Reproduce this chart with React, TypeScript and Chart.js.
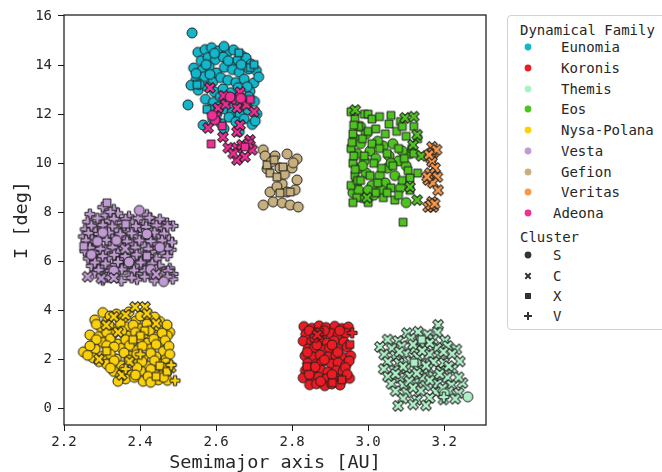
import React, { useEffect, useRef } from 'react';
import { Chart, registerables } from 'chart.js';

Chart.register(...registerables);

type Pt = [number, number];

const FONT = "'DejaVu Sans Mono', monospace";
const TEXT = '#262626';
const EDGE = '#1f1f1f';

const xTicks = [2.2, 2.4, 2.6, 2.8, 3.0, 3.2];
const yTicks = [0, 2, 4, 6, 8, 10, 12, 14, 16];
const xRange = [2.2, 3.31];
const yRange = [-0.66, 16.04];

const familyNames = ['Eunomia', 'Koronis', 'Themis', 'Eos', 'Nysa-Polana', 'Vesta', 'Gefion', 'Veritas', 'Adeona'];
const familyColors = ['#13b6cb', '#ec1c24', '#adf0c6', '#4ec320', '#fbd10c', '#c09ad1', '#c7b07e', '#f7984a', '#f02e96'];
const clusterNames = ['S', 'C', 'X', 'V'];

// ---------- data: [semimajor axis AU, inclination deg] ----------
const eunomiaS: Pt[] = [
  [2.537,15.31],[2.552,14.52],[2.571,14.63],[2.588,14.71],[2.607,14.58],[2.628,14.49],[2.646,14.62],[2.668,14.38],
  [2.561,14.18],[2.579,14.31],[2.598,14.22],[2.619,14.33],[2.638,14.08],[2.657,14.21],[2.679,14.29],[2.541,13.88],
  [2.563,13.79],[2.582,13.93],[2.601,13.68],[2.622,13.91],[2.643,13.82],[2.661,13.71],[2.686,13.84],[2.706,13.78],
  [2.548,13.42],[2.569,13.53],[2.591,13.31],[2.612,13.49],[2.631,13.38],[2.652,13.29],[2.674,13.43],[2.699,13.27],
  [2.553,12.98],[2.577,13.12],[2.596,12.91],[2.618,13.03],[2.639,12.88],[2.658,13.08],[2.689,12.93],[2.572,12.61],
  [2.593,12.48],[2.611,12.72],[2.629,12.52],[2.649,12.63],[2.671,12.41],[2.701,12.52],[2.526,12.38],[2.583,12.19],
  [2.602,12.02],[2.624,12.21],[2.642,12.08],[2.663,11.98],[2.684,12.18],[2.707,12.01],[2.591,11.79],[2.613,11.62],
  [2.634,11.88],[2.652,11.69],[2.674,11.81],[2.695,11.58],[2.566,11.56],[2.621,11.41],[2.661,11.29],[2.703,11.72],
  [2.574,14.02],[2.692,14.04],[2.534,13.18],[2.621,14.76],[2.712,13.52],[2.547,13.66],
  [2.596,14.48],[2.632,14.18],[2.666,14.02],[2.556,13.21],[2.584,13.62],[2.682,13.12],[2.608,12.31],[2.686,12.71]
];
const eunomiaX: Pt[] = [[2.66,14.5],[2.69,13.9],[2.55,13.2],[2.576,12.2],[2.70,14.02]];

const adeonaC: Pt[] = [
  [2.584,13.07],[2.663,12.9],[2.68,12.46],[2.605,12.25],[2.655,12.25],[2.579,11.44],[2.618,11.07],[2.655,11.28],
  [2.632,10.63],[2.655,10.63],[2.668,10.75],[2.689,10.95],[2.695,10.55],[2.655,10.14],[2.676,10.26],[2.663,11.56],
  [2.68,12.38],[2.64,12.6],[2.62,12.75],[2.60,11.9],[2.645,10.4],[2.685,10.8],[2.70,12.1],[2.625,12.4]
];
const adeonaX: Pt[] = [[2.587,10.79],[2.616,11.52],[2.676,10.67],[2.69,12.6]];
const adeonaS: Pt[] = [[2.637,12.7],[2.597,11.77],[2.665,12.65],[2.59,11.95]];

const gefionS: Pt[] = [
  [2.724,10.55],[2.755,10.30],[2.787,10.38],[2.813,10.18],[2.734,9.77],[2.768,9.81],[2.800,9.81],[2.813,9.32],
  [2.774,9.16],[2.742,8.83],[2.787,8.83],[2.750,8.43],[2.774,8.39],[2.795,8.30],[2.816,8.22],[2.724,8.30],
  [2.808,8.92],[2.729,10.30],[2.780,9.55],[2.760,9.05],[2.745,10.05],[2.803,10.02]
];
const gefionX: Pt[] = [[2.734,9.93],[2.753,10.14],[2.742,9.60],[2.760,9.44],[2.768,8.79],[2.795,8.83],[2.776,9.85]];

const eosX: Pt[] = [
  [2.955,12.1],[2.965,11.8],[2.975,11.5],[2.96,11.2],[2.955,10.6],[2.96,10.0],[2.965,9.5],[2.955,9.1],[2.97,8.6],
  [2.96,8.4],[2.985,11.0],[2.99,10.3],[3.0,11.3],[3.01,10.8],[3.02,11.4],[3.03,10.6],[3.015,10.0],[3.005,9.5],
  [3.025,9.2],[3.035,9.8],[3.045,11.2],[3.05,10.4],[3.055,11.6],[3.065,9.9],[3.06,9.0],[3.075,11.3],[3.08,10.6],
  [3.085,11.7],[3.09,9.3],[3.095,10.2],[3.10,11.1],[3.11,8.9],[3.115,10.6],[3.12,11.5],[3.13,11.0],[3.04,8.6],
  [3.0,8.4],[3.07,8.5],[3.092,7.6],[2.99,12.0],[3.02,8.8],[3.105,9.7],
  [2.962,11.55],[2.958,10.85],[2.962,10.3],[2.966,9.75],[2.972,9.3],[3.0,12.0],[3.01,11.8],[3.03,11.9],
  [3.06,11.95],[3.09,11.5],[3.12,10.4],[3.13,9.6],[3.11,9.4],[3.05,8.8],[3.08,8.7],[2.98,9.3]
];
const eosS: Pt[] = [
  [2.965,11.0],[2.97,10.4],[2.975,9.8],[2.97,9.2],[2.96,8.8],[2.98,10.8],[2.99,10.1],[2.995,9.6],[3.005,10.5],
  [3.01,9.1],[3.02,10.2],[3.03,9.5],[3.04,10.7],[3.05,9.8],[3.055,10.3],[3.065,10.8],[3.07,9.5],[3.08,10.1],
  [3.085,9.0],[3.10,8.4],[3.11,10.4],[2.985,8.6],[2.975,8.9],[3.015,8.7],[3.0,8.9],[2.98,11.5],
  [2.985,9.9],[3.025,10.9],[3.045,9.2],[3.09,10.5],[3.06,10.0],[2.995,11.2],[3.035,8.9],[3.1,9.9]
];
const eosC: Pt[] = [[2.966,12.17],[3.097,11.85],[3.129,11.16],[3.118,10.75],[3.11,9.04],[3.129,8.5],[2.997,8.6],[3.14,10.3],[3.12,11.9]];

const veritasC: Pt[] = [
  [3.168,10.67],[3.171,10.42],[3.165,10.2],[3.168,10.06],[3.176,9.81],[3.163,9.6],[3.182,9.44],[3.158,9.32],
  [3.17,9.2],[3.184,8.9],[3.168,8.43],[3.158,8.22],[3.171,8.22],[3.165,8.3],[3.18,10.55],[3.155,9.45],[3.16,10.35],[3.175,8.35]
];

const vestaV: Pt[] = [
  [2.302,8.21],[2.331,8.12],
  [2.268,7.93],[2.309,7.88],[2.342,7.96],[2.371,7.84],[2.418,7.91],
  [2.262,7.62],[2.291,7.55],[2.318,7.66],[2.352,7.58],[2.381,7.63],[2.409,7.52],[2.438,7.61],[2.471,7.57],
  [2.256,7.31],[2.283,7.24],[2.312,7.35],[2.338,7.28],[2.368,7.22],[2.401,7.33],[2.429,7.26],[2.458,7.36],[2.487,7.45],
  [2.251,7.02],[2.274,6.94],[2.303,7.05],[2.327,6.98],[2.361,6.92],[2.392,7.04],[2.421,6.96],[2.449,7.07],[2.476,6.91],
  [2.262,6.71],[2.288,6.64],[2.321,6.76],[2.349,6.68],[2.379,6.73],[2.412,6.62],[2.441,6.74],[2.468,6.66],
  [2.255,6.42],[2.281,6.35],[2.309,6.46],[2.342,6.38],[2.371,6.44],[2.398,6.33],[2.432,6.41],[2.459,6.36],[2.482,6.48],
  [2.264,6.12],[2.292,6.05],[2.318,6.16],[2.352,6.08],[2.383,6.14],[2.411,6.03],[2.443,6.11],
  [2.272,5.82],[2.301,5.76],[2.333,5.86],[2.362,5.78],[2.391,5.84],[2.422,5.74],[2.451,5.83],[2.478,5.72],
  [2.281,5.52],[2.312,5.46],[2.341,5.55],[2.372,5.43],[2.403,5.51],[2.428,5.42],[2.462,5.56],[2.487,5.49],
  [2.302,5.24],[2.351,5.21],[2.392,5.27],[2.438,5.22],[2.486,5.28],
  [2.322,8.02],[2.288,7.76],[2.331,7.74],[2.362,7.72],[2.395,7.76],[2.425,7.78],[2.452,7.72],
  [2.272,7.46],[2.302,7.48],[2.327,7.43],[2.358,7.46],[2.389,7.44],[2.416,7.41],[2.443,7.47],[2.472,7.43],
  [2.264,7.16],[2.292,7.12],[2.318,7.18],[2.348,7.11],[2.378,7.15],[2.408,7.12],[2.438,7.18],[2.463,7.14],
  [2.258,6.86],[2.282,6.81],[2.312,6.88],[2.336,6.84],[2.366,6.82],[2.398,6.86],[2.428,6.83],[2.458,6.86],[2.484,6.78],
  [2.268,6.56],[2.296,6.52],[2.328,6.58],[2.358,6.54],[2.388,6.57],[2.422,6.52],[2.448,6.55],[2.472,6.52],
  [2.271,6.26],[2.302,6.22],[2.332,6.27],[2.361,6.22],[2.391,6.28],[2.421,6.22],[2.472,6.22],
  [2.281,5.96],[2.309,5.92],[2.342,5.98],[2.372,5.93],[2.402,5.96],[2.432,5.92],
  [2.291,5.66],[2.322,5.62],[2.352,5.68],[2.384,5.64],[2.412,5.62],[2.442,5.66],[2.474,5.62],
  [2.318,5.36],[2.378,5.34],[2.412,5.38],[2.472,5.38]
];
const vestaS: Pt[] = [[2.398,8.08],[2.302,7.18],[2.338,6.86],[2.272,6.28],[2.371,5.98],[2.428,5.68],[2.452,6.58],[2.331,5.62],[2.462,5.18],[2.418,7.12],[2.288,6.82]];
const vestaC: Pt[] = [[2.262,5.38],[2.298,5.31],[2.331,5.33],[2.442,5.48],[2.361,6.52]];
const vestaX: Pt[] = [[2.313,8.39],[2.252,6.62],[2.418,6.22],[2.362,7.52]];

const nysaS: Pt[] = [
  [2.302,3.92],[2.338,3.86],[2.371,3.95],
  [2.281,3.62],[2.312,3.55],[2.352,3.66],[2.389,3.58],[2.421,3.64],[2.452,3.56],
  [2.298,3.31],[2.331,3.24],[2.362,3.35],[2.401,3.27],[2.432,3.33],[2.461,3.22],[2.478,3.12],
  [2.268,3.01],[2.291,2.94],[2.329,3.05],[2.368,2.97],[2.409,3.03],[2.441,2.92],[2.472,2.98],
  [2.302,2.71],[2.341,2.64],[2.381,2.76],[2.418,2.68],[2.452,2.73],
  [2.251,2.32],[2.282,2.44],[2.318,2.36],[2.352,2.47],[2.392,2.38],[2.428,2.45],[2.461,2.34],
  [2.276,2.08],[2.301,2.14],[2.338,2.03],[2.371,2.16],[2.408,2.07],[2.442,2.12],[2.468,2.01],
  [2.312,1.82],[2.351,1.76],[2.388,1.85],[2.421,1.74],[2.452,1.81],
  [2.331,1.52],[2.368,1.46],[2.402,1.55],[2.438,1.43],[2.471,1.51],
  [2.362,1.22],[2.408,1.12],[2.448,1.18],[2.472,1.16],[2.385,1.28],
  [2.321,3.78],[2.356,3.71],[2.401,3.78],[2.438,3.74],
  [2.285,3.44],[2.318,3.42],[2.348,3.48],[2.382,3.41],[2.418,3.45],[2.448,3.38],[2.471,3.42],
  [2.312,3.12],[2.352,3.16],[2.388,3.11],[2.425,3.18],[2.458,3.08],
  [2.285,2.82],[2.322,2.86],[2.362,2.82],[2.398,2.88],[2.436,2.84],[2.466,2.78],
  [2.268,2.56],[2.312,2.58],[2.332,2.52],[2.372,2.58],[2.406,2.55],[2.442,2.62],[2.476,2.55],
  [2.262,2.18],[2.322,2.22],[2.358,2.28],[2.391,2.21],[2.428,2.26],[2.478,2.22],
  [2.292,1.92],[2.332,1.96],[2.371,1.98],[2.405,1.92],[2.438,1.96],[2.468,1.88],
  [2.322,1.66],[2.358,1.62],[2.392,1.68],[2.428,1.61],[2.462,1.66],
  [2.348,1.32],[2.388,1.38],[2.421,1.32],[2.456,1.35],
  [2.342,1.12],[2.428,1.08],[2.462,1.28]
];
const nysaC: Pt[] = [[2.387,4.15],[2.413,4.15],[2.331,3.75],[2.362,3.82],[2.311,3.41],[2.342,3.12],[2.442,3.48],[2.292,2.02],[2.372,1.92],[2.481,1.68],[2.352,1.38],[2.418,3.88]];
const nysaX: Pt[] = [[2.412,3.18],[2.401,2.98],[2.312,2.35],[2.452,1.75],[2.471,1.52],[2.442,1.32],[2.381,2.82]];
const nysaV: Pt[] = [[2.492,1.15],[2.482,1.78],[2.401,2.22],[2.362,1.62]];

const koronisS: Pt[] = [
  [2.831,3.35],[2.852,3.28],[2.871,3.38],[2.889,3.31],[2.912,3.36],[2.931,3.27],[2.948,3.33],
  [2.836,3.04],[2.861,3.09],[2.879,2.98],[2.902,3.07],[2.921,3.01],[2.941,3.08],
  [2.829,2.76],[2.851,2.71],[2.872,2.79],[2.892,2.68],[2.911,2.77],[2.936,2.72],
  [2.842,2.44],[2.859,2.49],[2.881,2.41],[2.898,2.47],[2.922,2.42],[2.945,2.51],
  [2.834,2.16],[2.856,2.11],[2.874,2.19],[2.896,2.12],[2.915,2.18],[2.935,2.09],[2.954,2.16],
  [2.841,1.86],[2.862,1.81],[2.878,1.89],[2.903,1.83],[2.921,1.88],[2.942,1.81],
  [2.835,1.56],[2.853,1.51],[2.876,1.58],[2.894,1.49],[2.916,1.56],[2.934,1.52],
  [2.829,1.26],[2.851,1.21],[2.869,1.29],[2.891,1.22],[2.909,1.27],[2.931,1.19],[2.951,1.24],
  [2.846,0.98],[2.864,1.02],[2.886,0.94],[2.904,1.01],[2.926,0.97],
  [2.845,3.18],[2.885,3.18],[2.925,3.18],[2.865,2.6],[2.905,2.6],[2.84,2.3],[2.92,2.3],[2.885,2.0],
  [2.95,1.95],[2.86,1.7],[2.94,1.68],[2.905,1.4],[2.845,1.4],[2.875,1.12],[2.945,1.4]
];
const koronisX: Pt[] = [[2.839,1.72],[2.858,2.88],[2.872,3.12],[2.952,2.62],[2.906,1.06],[2.931,1.18]];
const koronisV: Pt[] = [[2.958,3.09]];
const koronisC: Pt[] = [[2.866,3.01]];

const themisC: Pt[] = [
  [3.184,3.42],
  [3.102,3.08],[3.131,3.14],[3.156,3.02],[3.182,3.11],
  [3.051,2.82],[3.078,2.76],[3.112,2.86],[3.139,2.74],[3.171,2.83],[3.202,2.78],
  [3.031,2.52],[3.062,2.46],[3.088,2.55],[3.121,2.44],[3.149,2.52],[3.181,2.47],[3.209,2.56],[3.232,2.42],
  [3.042,2.21],[3.071,2.16],[3.098,2.24],[3.129,2.13],[3.161,2.22],[3.188,2.17],[3.221,2.24],
  [3.052,1.92],[3.081,1.86],[3.112,1.94],[3.139,1.84],[3.172,1.91],[3.199,1.87],[3.241,1.93],
  [3.041,1.62],[3.069,1.56],[3.101,1.65],[3.132,1.58],[3.158,1.64],[3.191,1.54],[3.222,1.62],
  [3.052,1.31],[3.082,1.26],[3.109,1.34],[3.142,1.24],[3.171,1.32],[3.208,1.27],
  [3.061,1.02],[3.092,0.96],[3.122,1.04],[3.151,0.94],[3.182,1.01],[3.219,0.97],[3.248,1.05],
  [3.072,0.72],[3.101,0.66],[3.138,0.74],[3.178,0.68],[3.212,0.71],[3.238,0.64],
  [3.092,0.42],[3.128,0.36],[3.162,0.44],[3.198,0.38],[3.229,0.41],
  [3.079,0.12],[3.118,0.18],[3.152,0.14],
  [3.118,2.62],[3.162,2.68],[3.082,2.32],[3.142,2.36],[3.198,2.32],[3.092,1.72],[3.152,1.76],[3.212,1.74],
  [3.072,1.42],[3.128,1.45],[3.188,1.42],[3.108,1.12],[3.162,1.16],[3.238,1.28],[3.118,0.86],[3.196,0.84]
];
const themisX: Pt[] = [[3.141,2.82],[3.121,1.88]];
const themisS: Pt[] = [[3.262,0.49],[3.201,0.62]];
const themisV: Pt[] = [[3.199,0.48]];

// draw order: first drawn at the bottom
const groups: { family: string; cluster: string; pts: Pt[] }[] = [
  { family: 'Vesta', cluster: 'V', pts: vestaV },
  { family: 'Vesta', cluster: 'S', pts: vestaS },
  { family: 'Vesta', cluster: 'C', pts: vestaC },
  { family: 'Vesta', cluster: 'X', pts: vestaX },
  { family: 'Nysa-Polana', cluster: 'S', pts: nysaS },
  { family: 'Nysa-Polana', cluster: 'C', pts: nysaC },
  { family: 'Nysa-Polana', cluster: 'X', pts: nysaX },
  { family: 'Nysa-Polana', cluster: 'V', pts: nysaV },
  { family: 'Koronis', cluster: 'S', pts: koronisS },
  { family: 'Koronis', cluster: 'X', pts: koronisX },
  { family: 'Koronis', cluster: 'V', pts: koronisV },
  { family: 'Koronis', cluster: 'C', pts: koronisC },
  { family: 'Themis', cluster: 'C', pts: themisC },
  { family: 'Themis', cluster: 'X', pts: themisX },
  { family: 'Themis', cluster: 'S', pts: themisS },
  { family: 'Themis', cluster: 'V', pts: themisV },
  { family: 'Eos', cluster: 'S', pts: eosS },
  { family: 'Eos', cluster: 'X', pts: eosX },
  { family: 'Eos', cluster: 'C', pts: eosC },
  { family: 'Veritas', cluster: 'C', pts: veritasC },
  { family: 'Gefion', cluster: 'S', pts: gefionS },
  { family: 'Gefion', cluster: 'X', pts: gefionX },
  { family: 'Eunomia', cluster: 'S', pts: eunomiaS },
  { family: 'Eunomia', cluster: 'X', pts: eunomiaX },
  { family: 'Adeona', cluster: 'C', pts: adeonaC },
  { family: 'Adeona', cluster: 'X', pts: adeonaX },
  { family: 'Adeona', cluster: 'S', pts: adeonaS },
];

function plusPath(g: CanvasRenderingContext2D, h: number, w: number) {
  const p: Pt[] = [[-w,-h],[w,-h],[w,-w],[h,-w],[h,w],[w,w],[w,h],[-w,h],[-w,w],[-h,w],[-h,-w],[-w,-w]];
  g.moveTo(p[0][0], p[0][1]);
  for (let i = 1; i < p.length; i++) g.lineTo(p[i][0], p[i][1]);
  g.closePath();
}

function makeMarker(shape: string, fill: string): HTMLCanvasElement {
  const c = document.createElement('canvas');
  c.width = 16; c.height = 16;
  const g = c.getContext('2d')!;
  g.translate(8, 8);
  g.beginPath();
  if (shape === 'S') g.arc(0, 0, 5.0, 0, Math.PI * 2);
  else if (shape === 'X') g.rect(-3.9, -3.9, 7.8, 7.8);
  else if (shape === 'C') { g.rotate(Math.PI / 4); plusPath(g, 5.7, 1.8); }
  else plusPath(g, 5.0, 1.7);
  g.fillStyle = fill; g.fill();
  g.lineWidth = 1; g.strokeStyle = EDGE; g.stroke();
  return c;
}

const framePlugin = {
  id: 'frame',
  afterDraw(chart: any) {
    const { ctx, chartArea: a } = chart;
    ctx.save();
    ctx.strokeStyle = '#1a1a1a';
    ctx.lineWidth = 1.25;
    ctx.strokeRect(a.left, a.top, a.right - a.left, a.bottom - a.top);
    ctx.restore();
  },
};

function LegendMarker({ shape, color }: { shape: string; color: string }) {
  let el: React.ReactNode;
  if (shape === 'S') el = <circle cx={5} cy={5} r={3.4} fill={color} />;
  else if (shape === 'X') el = <rect x={2} y={2} width={6} height={6} fill={color} />;
  else if (shape === 'C')
    el = <path d="M1.6,3 L3,1.6 L5,3.6 L7,1.6 L8.4,3 L6.4,5 L8.4,7 L7,8.4 L5,6.4 L3,8.4 L1.6,7 L3.6,5 Z" fill={color} />;
  else el = <path d="M4,1 H6 V4 H9 V6 H6 V9 H4 V6 H1 V4 H4 Z" fill={color} />;
  return <svg width={10} height={10} style={{ position: 'absolute', left: -5, top: -5 }}>{el}</svg>;
}

function Legend() {
  const rowStyle = (x: number, cy: number): React.CSSProperties => ({
    position: 'absolute', left: x, top: cy - 9, height: 18, lineHeight: '18px',
    fontFamily: FONT, fontSize: 14, color: TEXT, whiteSpace: 'pre',
  });
  const famY = [47, 68, 89, 109, 130, 151, 172, 192, 213];
  const cluY = [255, 276, 296, 316];
  return (
    <div style={{ position: 'absolute', left: 0, top: 0, width: 662, height: 472, pointerEvents: 'none' }}>
      <div style={{ position: 'absolute', left: 507, top: 15, width: 200, height: 313, border: '1px solid #d2d2d2', borderRadius: 4, background: '#fff' }} />
      <div style={rowStyle(520, 30)}>Dynamical Family</div>
      {familyNames.map((n, i) => (
        <React.Fragment key={n}>
          <div style={{ position: 'absolute', left: 528, top: famY[i] }}><LegendMarker shape="S" color={familyColors[i]} /></div>
          <div style={rowStyle(n === 'Adeona' ? 553 : 561, famY[i])}>{n}</div>
        </React.Fragment>
      ))}
      <div style={rowStyle(520, 237)}>Cluster</div>
      {clusterNames.map((n, i) => (
        <React.Fragment key={n}>
          <div style={{ position: 'absolute', left: 528, top: cluY[i] }}><LegendMarker shape={n} color="#333333" /></div>
          <div style={rowStyle(553, cluY[i])}>{n}</div>
        </React.Fragment>
      ))}
    </div>
  );
}

export default function App() {
  const ref = useRef<HTMLCanvasElement>(null);
  useEffect(() => {
    if (!ref.current) return;
    const datasets = groups.slice().reverse().map((g) => {
      const color = familyColors[familyNames.indexOf(g.family)];
      const img = makeMarker(g.cluster, color);
      return {
        label: g.family + ' ' + g.cluster,
        data: g.pts.map(([x, y]) => ({ x, y })),
        pointStyle: img,
        pointRadius: 5,
        pointHoverRadius: 5,
        backgroundColor: color,
        borderColor: EDGE,
      };
    });
    const chart = new Chart(ref.current, {
      type: 'scatter',
      data: { datasets: datasets as any },
      plugins: [framePlugin],
      options: {
        animation: false,
        responsive: false,
        devicePixelRatio: 1,
        layout: { padding: { left: 0, top: 15, right: 176, bottom: 0 } },
        plugins: { legend: { display: false }, tooltip: { enabled: false } },
        scales: {
          x: {
            type: 'linear',
            min: xRange[0], max: xRange[1],
            afterFit: (s: any) => { s.height = 47; },
            afterBuildTicks: (s: any) => { s.ticks = xTicks.map((v) => ({ value: v })); },
            ticks: { font: { family: FONT, size: 14 }, color: TEXT, padding: 3, callback: (v: any) => Number(v).toFixed(1), maxRotation: 0 },
            grid: { drawOnChartArea: false, drawTicks: true, tickLength: 6, tickColor: '#1a1a1a', tickWidth: 1 },
            border: { display: false },
            title: { display: true, text: 'Semimajor axis [AU]', font: { family: FONT, size: 18.5, lineHeight: 1 }, color: TEXT, padding: { top: 0, bottom: 0 } },
          },
          y: {
            type: 'linear',
            min: yRange[0], max: yRange[1],
            afterFit: (s: any) => { s.width = 64; },
            afterBuildTicks: (s: any) => { s.ticks = yTicks.map((v) => ({ value: v })); },
            ticks: { font: { family: FONT, size: 14 }, color: TEXT, padding: 6, callback: (v: any) => String(Math.round(Number(v))) },
            grid: { drawOnChartArea: false, drawTicks: true, tickLength: 6, tickColor: '#1a1a1a', tickWidth: 1 },
            border: { display: false },
            title: { display: true, text: 'I [deg]', font: { family: FONT, size: 18.5, lineHeight: 1 }, color: TEXT, padding: { top: 13, bottom: 0 } },
          },
        },
      } as any,
    });
    return () => chart.destroy();
  }, []);
  return (
    <div style={{ position: 'absolute', left: 0, top: 0, width: 662, height: 472, overflow: 'hidden', background: '#fff' }}>
      <canvas ref={ref} width={662} height={472} style={{ position: 'absolute', left: 0, top: 0, width: 662, height: 472 }} />
      <Legend />
    </div>
  );
}
